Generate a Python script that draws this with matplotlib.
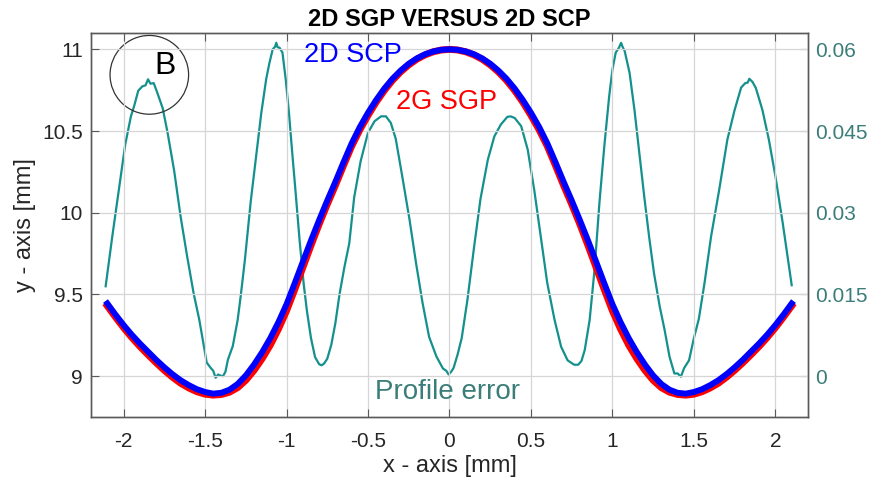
import matplotlib
matplotlib.use("Agg")
import matplotlib.pyplot as plt
from matplotlib.patches import Circle

plt.rcParams["font.family"] = ["Liberation Sans", "DejaVu Sans"]
plt.rcParams["axes.unicode_minus"] = False

# profile coordinates [mm]
x_prof = [-2.1, -2.05, -2.0, -1.95, -1.9, -1.85, -1.8, -1.75, -1.7, -1.65, -1.6, -1.55,
          -1.5, -1.45, -1.4, -1.35, -1.3, -1.25, -1.2, -1.15, -1.1, -1.05, -1.0, -0.95,
          -0.9, -0.85, -0.8, -0.75, -0.7, -0.65, -0.6, -0.55, -0.5, -0.45, -0.4, -0.35,
          -0.3, -0.25, -0.2, -0.15, -0.1, -0.05, 0.0,
          0.05, 0.1, 0.15, 0.2, 0.25, 0.3, 0.35, 0.4, 0.45, 0.5, 0.55, 0.6,
          0.65, 0.7, 0.75, 0.8, 0.85, 0.9, 0.95, 1.0, 1.05, 1.1, 1.15, 1.2,
          1.25, 1.3, 1.35, 1.4, 1.45, 1.5, 1.55, 1.6, 1.65, 1.7, 1.75, 1.8,
          1.85, 1.9, 1.95, 2.0, 2.05, 2.1]
y_scp = [9.445, 9.377, 9.313, 9.254, 9.20, 9.15, 9.10, 9.054, 9.012, 8.975, 8.945, 8.92,
         8.903, 8.893, 8.898, 8.917, 8.952, 9.004, 9.07, 9.146, 9.232, 9.33, 9.44, 9.568,
         9.70, 9.83, 9.955, 10.075, 10.19, 10.31, 10.425, 10.525, 10.612, 10.69, 10.76, 10.82,
         10.87, 10.912, 10.945, 10.97, 10.987, 10.997, 11.0,
         10.997, 10.987, 10.97, 10.945, 10.912, 10.87, 10.82, 10.76, 10.69, 10.612, 10.525, 10.425,
         10.31, 10.19, 10.075, 9.955, 9.83, 9.70, 9.568, 9.44, 9.33, 9.232, 9.146, 9.07,
         9.004, 8.952, 8.917, 8.898, 8.893, 8.903, 8.92, 8.945, 8.975, 9.012, 9.054, 9.10,
         9.15, 9.20, 9.254, 9.313, 9.377, 9.445]
y_sgp = [9.43, 9.362, 9.297, 9.237, 9.182, 9.131, 9.082, 9.036, 8.994, 8.957, 8.928, 8.905,
         8.89, 8.884, 8.888, 8.902, 8.93, 8.975, 9.035, 9.107, 9.19, 9.288, 9.40, 9.53,
         9.665, 9.80, 9.93, 10.052, 10.168, 10.29, 10.408, 10.508, 10.596, 10.677, 10.748, 10.81,
         10.862, 10.905, 10.94, 10.966, 10.985, 10.996, 11.0,
         10.996, 10.985, 10.966, 10.94, 10.905, 10.862, 10.81, 10.748, 10.677, 10.596, 10.508, 10.408,
         10.29, 10.168, 10.052, 9.93, 9.80, 9.665, 9.53, 9.40, 9.288, 9.19, 9.107, 9.035,
         8.975, 8.93, 8.902, 8.888, 8.884, 8.89, 8.905, 8.928, 8.957, 8.994, 9.036, 9.082,
         9.131, 9.182, 9.237, 9.297, 9.362, 9.43]

# profile error (right axis)
x_err = [-2.11, -2.07, -2.03, -1.99, -1.955, -1.935, -1.91, -1.885, -1.865, -1.85,
         -1.835, -1.815, -1.795, -1.76, -1.73, -1.69, -1.65, -1.61, -1.57, -1.535,
         -1.51, -1.49, -1.465, -1.45, -1.435, -1.42, -1.405, -1.39, -1.375, -1.36,
         -1.33, -1.30, -1.28, -1.255, -1.22, -1.19, -1.155, -1.125, -1.105, -1.085,
         -1.07, -1.063, -1.055, -1.043, -1.025, -1.005, -0.985, -0.965, -0.945, -0.92,
         -0.895, -0.875, -0.85, -0.825, -0.80, -0.785, -0.77, -0.75, -0.725, -0.70,
         -0.675, -0.645, -0.615, -0.585, -0.545, -0.50, -0.46, -0.42, -0.39, -0.36,
         -0.33, -0.29, -0.245, -0.205, -0.165, -0.125, -0.08, -0.04, -0.02, -0.005,
         0.01, 0.025, 0.05, 0.075, 0.11, 0.15, 0.19, 0.235, 0.275, 0.315,
         0.355, 0.375, 0.40, 0.44, 0.48, 0.52, 0.56, 0.60, 0.645, 0.685,
         0.725, 0.765, 0.79, 0.81, 0.83, 0.86, 0.89, 0.92, 0.95, 0.98,
         1.00, 1.02, 1.04, 1.053, 1.063, 1.075, 1.105, 1.135, 1.165, 1.195,
         1.225, 1.255, 1.29, 1.32, 1.35, 1.38, 1.40, 1.42, 1.44, 1.47,
         1.50, 1.53, 1.565, 1.605, 1.655, 1.705, 1.75, 1.79, 1.815, 1.83,
         1.84, 1.86, 1.88, 1.92, 1.96, 2.00, 2.045, 2.10]
err = [0.0165, 0.0255, 0.0340, 0.0425, 0.0477, 0.0496, 0.0524, 0.0532, 0.0534, 0.0545,
       0.0537, 0.0538, 0.0522, 0.0492, 0.0447, 0.0378, 0.0293, 0.0220, 0.0152, 0.0103,
       0.0060, 0.0025, 0.0015, 0.0010, -0.0003, 0.0003, 0.0001, 0.0000, 0.0008, 0.0030,
       0.0055, 0.0103, 0.0150, 0.0215, 0.0320, 0.0395, 0.0483, 0.0545, 0.0575, 0.0600,
       0.0605, 0.0612, 0.0604, 0.0603, 0.0594, 0.0545, 0.0483, 0.0410, 0.0340, 0.0250,
       0.0170, 0.0120, 0.0070, 0.0035, 0.0022, 0.0020, 0.0023, 0.0032, 0.0058, 0.0098,
       0.0150, 0.0200, 0.0244, 0.0328, 0.0395, 0.0447, 0.0468, 0.0477, 0.0477, 0.0465,
       0.0436, 0.0367, 0.0287, 0.0207, 0.0134, 0.0072, 0.0036, 0.0014, 0.0010, 0.0003,
       0.0008, 0.0015, 0.0040, 0.0070, 0.0140, 0.0235, 0.0325, 0.0397, 0.0440, 0.0462,
       0.0476, 0.0477, 0.0474, 0.0459, 0.0416, 0.0342, 0.0256, 0.0171, 0.0103, 0.0054,
       0.0029, 0.0021, 0.0021, 0.0028, 0.0048, 0.0103, 0.0195, 0.0318, 0.0422, 0.0514,
       0.0563, 0.0594, 0.0603, 0.0612, 0.0604, 0.0597, 0.0557, 0.0489, 0.0410, 0.0330,
       0.0256, 0.0189, 0.0128, 0.0085, 0.0036, 0.0005, 0.0005, -0.0001, 0.0015, 0.0029,
       0.0070, 0.0105, 0.0171, 0.0256, 0.0342, 0.0434, 0.0489, 0.0530, 0.0538, 0.0539,
       0.0546, 0.0540, 0.0529, 0.0489, 0.0434, 0.0367, 0.0281, 0.0167]

x_ticks = [-2, -1.5, -1, -0.5, 0, 0.5, 1, 1.5, 2]
x_ticklabels = ["-2", "-1.5", "-1", "-0.5", "0", "0.5", "1", "1.5", "2"]
y_ticks = [9, 9.5, 10, 10.5, 11]
y_ticklabels = ["9", "9.5", "10", "10.5", "11"]
err_ticks = [0, 0.015, 0.03, 0.045, 0.06]
err_ticklabels = ["0", "0.015", "0.03", "0.045", "0.06"]

dark = "#262626"
teal = "#14908d"
teal_txt = "#3b7d78"
spine_c = "#5a5a5a"

fig = plt.figure(figsize=(8.69, 4.84), dpi=100)
ax = fig.add_axes([0.1047, 0.1384, 0.8251, 0.7934])
ax2 = ax.twinx()

# teal error curve behind the profiles
ax2.plot(x_err, err, color=teal, lw=1.6)
ax2.set_ylim(-0.0075, 0.0630)
ax2.set_yticks(err_ticks)
ax2.set_yticklabels(err_ticklabels)
ax2.tick_params(axis="y", direction="in", length=6, width=0.8, colors=spine_c,
                labelcolor=teal_txt, labelsize=15, pad=5)

ax.set_zorder(ax2.get_zorder() + 1)
ax.patch.set_visible(False)

ax.plot(x_prof, y_sgp, color="red", lw=5.0, solid_joinstyle="round")
ax.plot(x_prof, y_scp, color="blue", lw=4.3, solid_joinstyle="round")

ax.set_xlim(-2.2, 2.2)
ax.set_ylim(8.75, 11.1)
ax.set_xticks(x_ticks)
ax.set_xticklabels(x_ticklabels)
ax.set_yticks(y_ticks)
ax.set_yticklabels(y_ticklabels)
ax.tick_params(axis="x", direction="in", length=6, width=0.8, top=True,
               colors=spine_c, labelcolor=dark, labelsize=15, pad=11)
ax.tick_params(axis="y", direction="in", length=6, width=0.8, colors=spine_c,
               labelcolor=dark, labelsize=15, pad=6)
ax.grid(True, color="#d6d6d6", lw=0.9)

for a in (ax, ax2):
    for s in a.spines.values():
        s.set_color(spine_c)
        s.set_linewidth(1.0)

ax.set_xlabel("x - axis [mm]", fontsize=17, color=dark, labelpad=3)
ax.set_ylabel("y - axis [mm]", fontsize=17, color=dark, labelpad=4)
ax.set_title("2D SGP VERSUS 2D SCP", fontsize=17, fontweight="bold", pad=5)

ax.text(-0.89, 10.963, "2D SCP", color="blue", fontsize=19.5, va="center", ha="left")
ax.text(-0.327, 10.68, "2G SGP", color="red", fontsize=19.5, va="center", ha="left")
ax.text(-0.46, 8.905, "Profile error", color=teal_txt, fontsize=20, va="center", ha="left")
ax.text(-1.748, 10.896, "B", color="black", fontsize=23, va="center", ha="center")
ax.add_patch(Circle((-1.842, 10.844), 0.241, fill=False, ec="#333333", lw=0.9))

fig.savefig("out.png", dpi=100)
